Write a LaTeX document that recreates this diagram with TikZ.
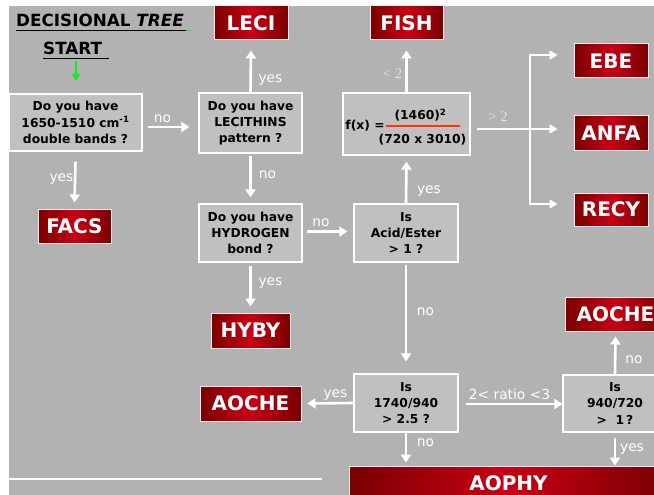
\documentclass[tikz,border=0pt]{standalone}
\usepackage{fontspec}
\setmainfont{DejaVu Sans}
\newfontfamily\serifx{Liberation Serif}
\usetikzlibrary{arrows.meta,calc}
\definecolor{bggray}{HTML}{B2B2B2}
\definecolor{boxgray}{HTML}{C0C0C0}
\definecolor{redD}{HTML}{7A0000}
\definecolor{redL}{HTML}{C80016}
\definecolor{fracline}{HTML}{FF3300}
\definecolor{cmpgray}{HTML}{E2E2E2}
\definecolor{startgreen}{HTML}{11EE11}
\begin{document}
\begin{tikzpicture}[x=1pt,y=-1pt,
  qbox/.style={draw=white, line width=1.3pt, fill=boxgray, inner sep=0pt, align=center,
    font=\fontsize{12.3}{16.3}\selectfont\bfseries, text=black},
  rbox/.style={draw=white!92!red, line width=1pt, left color=redD, right color=redD, middle color=redL,
    inner sep=0pt, font=\fontsize{20}{24}\selectfont\bfseries, text=white},
  arr/.style={draw=white, line width=2.6pt, -{Triangle[width=10pt,length=8pt]}},
  thinarr/.style={draw=white, line width=1.7pt, -{Triangle[width=9pt,length=8pt]}},
  lab/.style={text=white, font=\fontsize{13.8}{16}\selectfont, inner sep=0pt},
  cmp/.style={text=cmpgray, font=\fontsize{14.5}{16}\selectfont\serifx, inner sep=0pt},
  fxt/.style={text=black, font=\fontsize{12.3}{16}\selectfont\bfseries, inner sep=0pt},
  ttl/.style={text=black, font=\fontsize{16.8}{20}\selectfont\bfseries, inner sep=0pt, anchor=base west}
]
\useasboundingbox (0,0) rectangle (654,495);
\clip (0,0) rectangle (654,495);
\fill[white] (0,0) rectangle (654,495);
\fill[bggray] (9,6) rectangle (660,500);
\draw[white, line width=1.5pt] (9,479) -- (322,479);

% title
\node[ttl] (title) at (16,27) {DECISIONAL \textit{TREE}};
\draw[black, line width=1.5pt] (16,30.5) -- (186,30.5);
\draw[startgreen, line width=1.5pt] (186,30.5) -- (191,30.5);
\node[ttl] (start) at (43,55) {START};
\draw[black, line width=1.5pt] (43,58.5) -- (109,58.5);
\coordinate (g1) at (76,61);
\coordinate (g2) at (76,81);
\draw[startgreen, line width=2pt, -{Triangle[width=8pt,length=7pt]}] (g1) -- (g2);

% question boxes
\node[qbox, minimum width=133pt, minimum height=57pt] (b1) at (75.5,122.5) {Do you have\\1650-1510 cm\textsuperscript{-1}\\double bands ?};
\node[qbox, minimum width=103pt, minimum height=60pt] (b2) at (250.5,123) {Do you have\\LECITHINS\\pattern ?};
\node[qbox, minimum width=103pt, minimum height=58pt] (b3) at (250.5,233) {Do you have\\HYDROGEN\\bond ?};
\node[qbox, minimum width=104pt, minimum height=58pt] (b4) at (406,233) {Is\\Acid/Ester\\> 1 ?};
\node[qbox, minimum width=127pt, minimum height=62pt] (b5) at (406.5,124) {};
\node[qbox, minimum width=104pt, minimum height=58pt] (b6) at (406,403) {Is\\1740/940\\> 2.5 ?};
\node[qbox, minimum width=104pt, minimum height=57pt] (b7) at (615,403.5) {Is\\940/720\\>\ \ 1\,?};

% formula inside b5
\node[fxt] (fxl) at (365,126) {f(x) =};
\node[fxt] (num) at (420.5,115) {(1460)\textsuperscript{2}};
\node[fxt] (den) at (422.5,140) {(720 x 3010)};
\coordinate (fl1) at (386,126);
\coordinate (fl2) at (460,126);
\draw[fracline, line width=2.5pt] (fl1) -- (fl2);

% result boxes
\node[rbox, minimum width=74pt, minimum height=34pt] (leci) at (251,23) {LECI};
\node[rbox, minimum width=73pt, minimum height=34pt] (fish) at (406.5,23) {FISH};
\node[rbox, minimum width=74pt, minimum height=34pt] (ebe) at (611,61) {EBE};
\node[rbox, minimum width=74pt, minimum height=34pt] (anfa) at (611,133) {ANFA};
\node[rbox, minimum width=74pt, minimum height=33pt] (recy) at (611,209.5) {RECY};
\node[rbox, minimum width=73pt, minimum height=34pt] (facs) at (74.5,226) {FACS};
\node[rbox, minimum width=79pt, minimum height=35pt] (hyby) at (250.5,330.5) {HYBY};
\node[rbox, minimum width=101pt, minimum height=35pt] (aocheL) at (250.5,403.5) {AOCHE};
\node[rbox, minimum width=101pt, minimum height=34pt] (aocheR) at (615.5,314) {AOCHE};
\node[rbox, minimum width=319pt, minimum height=35pt] (aophy) at (508.5,483.5) {AOPHY};

% connectors
\draw[arr] ([shift={(5,4.5)}]b1.east) -- ([shift={(-9,4)}]b2.west);
\node[lab] (l1) at (162.5,119) {no};
\draw[arr] (b2.north) -- ([shift={(0,10)}]leci.south);
\node[lab] (l2) at (270.5,80) {yes};
\draw[arr] ([shift={(0,2)}]b2.south) -- ([shift={(0,-6)}]b3.north);
\node[lab] (l3) at (267.5,175) {no};
\draw[arr] ([shift={(0,10)}]b1.south) -- ([shift={(0,-6)}]facs.north);
\node[lab] (l4) at (61.5,179) {yes};
\draw[arr] ([shift={(4,-1.5)}]b3.east) -- ([shift={(-6,-1.5)}]b4.west);
\node[lab] (l5) at (321,223) {no};
\draw[arr] (b4.north) -- ([shift={(0,6)}]b5.south);
\node[lab] (l6) at (429,191) {yes};
\draw[arr] (b5.north) -- ([shift={(0,10)}]fish.south);
\node[cmp] (l7) at (392.5,74) {< 2};
\coordinate (br) at (530,129);
\draw[thinarr] ([shift={(6,5)}]b5.east) -- (br) |- ([shift={(-16,-6)}]ebe.west);
\draw[thinarr] (br) -- ([shift={(-16,-4)}]anfa.west);
\draw[thinarr] (br) |- ([shift={(-16,-5.5)}]recy.west);
\node[cmp] (l8) at (498,117) {> 2};
\draw[arr] ([shift={(0,3)}]b3.south) -- ([shift={(0,-6)}]hyby.north);
\node[lab] (l9) at (270.5,283) {yes};
\draw[arr] ([shift={(0,2)}]b4.south) -- ([shift={(0,-12)}]b6.north);
\node[lab] (l10) at (425.5,312) {no};
\draw[arr] (b6.west) -- ([shift={(6,0)}]aocheL.east);
\node[lab] (l11) at (335.5,395) {yes};
\draw[arr] ([shift={(7,1)}]b6.east) -- ([shift={(0,0.5)}]b7.west);
\node[lab] (l12) at (509.5,394) {2< ratio <3};
\draw[arr] (b7.north) -- ([shift={(0,5)}]aocheR.south);
\node[lab] (l13) at (634,360) {no};
\draw[arr] ([shift={(0,5)}]b7.south) -- (b7.south |- aophy.north);
\node[lab] (l14) at (632,449) {yes};
\draw[arr] (b6.south) -- ($(b6.south |- aophy.north)+(0,-3)$);
\node[lab] (l15) at (425.5,443) {no};
\end{tikzpicture}
\end{document}
